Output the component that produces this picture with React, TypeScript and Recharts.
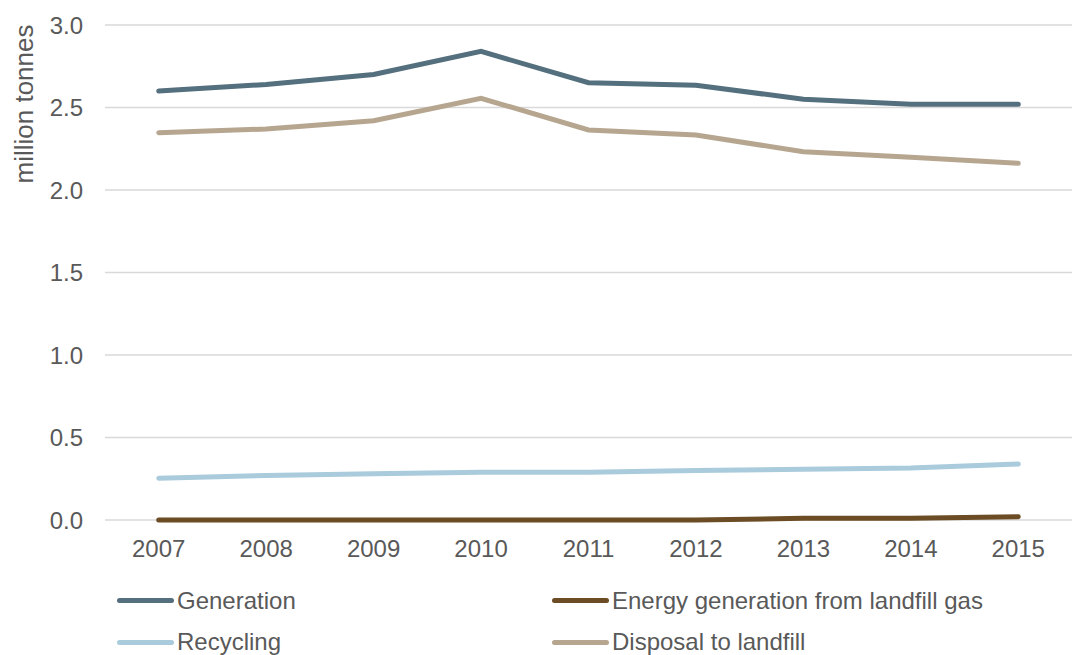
import { LineChart, Line, XAxis, YAxis, CartesianGrid, Legend } from 'recharts';

const years = ['2007', '2008', '2009', '2010', '2011', '2012', '2013', '2014', '2015'];
const generation = [2.6, 2.64, 2.7, 2.84, 2.65, 2.635, 2.55, 2.52, 2.52];
const energyFromGas = [0, 0, 0, 0, 0, 0, 0.01, 0.01, 0.02];
const recycling = [0.253, 0.27, 0.28, 0.289, 0.29, 0.3, 0.308, 0.315, 0.339];
const disposal = [2.347, 2.37, 2.42, 2.556, 2.364, 2.333, 2.232, 2.198, 2.162];
const yTicks = [0, 0.5, 1.0, 1.5, 2.0, 2.5, 3.0];
const legendOrder = ['Generation', 'Energy generation from landfill gas', 'Recycling', 'Disposal to landfill'];

const chartData = years.map((year, i) => ({
  year,
  generation: generation[i],
  energy: energyFromGas[i],
  recycling: recycling[i],
  disposal: disposal[i],
}));

const TEXT = '#595959';
const GRID = '#d9d9d9';

// legend laid out as two columns, like the original
const LegendBox = (props: any) => {
  const payload = props.payload || [];
  const items = legendOrder
    .map((name) => payload.find((p: any) => p.value === name))
    .filter(Boolean);
  return (
    <div
      style={{
        display: 'grid',
        gridTemplateColumns: '435px 435px',
        paddingLeft: 117,
      }}
    >
      {items.map((item: any) => (
        <div
          key={item.value}
          style={{ display: 'flex', alignItems: 'center', height: 41.5 }}
        >
          <span
            style={{
              display: 'inline-block',
              width: 57,
              height: 5,
              borderRadius: 3,
              background: item.color,
            }}
          />
          <span style={{ marginLeft: 3, fontSize: 24, color: TEXT }}>{item.value}</span>
        </div>
      ))}
    </div>
  );
};

const YLabel = () => (
  <text
    x={24}
    y={104}
    transform="rotate(-90 24 104)"
    textAnchor="middle"
    dominantBaseline="central"
    fill={TEXT}
    fontSize={26}
  >
    million tonnes
  </text>
);

const App = () => {
  return (
    <div
      style={{
        position: 'absolute',
        left: 0,
        top: 0,
        width: 1072,
        height: 655,
        background: '#fff',
        fontFamily: '"Liberation Sans", Arial, sans-serif',
      }}
    >
      <LineChart
        width={1072}
        height={655}
        data={chartData}
        margin={{ top: 25, right: 0, bottom: 105, left: 0 }}
      >
        <CartesianGrid vertical={false} stroke={GRID} strokeWidth={1.3} />
        <XAxis
          dataKey="year"
          scale="band"
          height={30}
          tickLine={false}
          tickSize={0}
          tickMargin={20}
          axisLine={false}
          tick={{ fill: TEXT, fontSize: 24 }}
        />
        <YAxis
          width={105}
          domain={[0, 3]}
          ticks={yTicks}
          interval={0}
          tickLine={false}
          axisLine={false}
          tickSize={0}
          tickMargin={22}
          tick={{ fill: TEXT, fontSize: 24 }}
          tickFormatter={(v: number) => v.toFixed(1)}
          label={{ content: () => <YLabel /> }}
        />
        <Legend
          verticalAlign="middle"
          align="center"
          content={<LegendBox />}
          wrapperStyle={{ top: 580, left: 0, width: 1072 }}
        />
        <Line
          type="linear"
          dataKey="generation"
          name="Generation"
          stroke="#546f7d"
          strokeWidth={5}
          strokeLinecap="round"
          dot={false}
          isAnimationActive={false}
        />
        <Line
          type="linear"
          dataKey="energy"
          name="Energy generation from landfill gas"
          stroke="#6b4c24"
          strokeWidth={5}
          strokeLinecap="round"
          dot={false}
          isAnimationActive={false}
        />
        <Line
          type="linear"
          dataKey="recycling"
          name="Recycling"
          stroke="#a9cbdc"
          strokeWidth={5}
          strokeLinecap="round"
          dot={false}
          isAnimationActive={false}
        />
        <Line
          type="linear"
          dataKey="disposal"
          name="Disposal to landfill"
          stroke="#b6a690"
          strokeWidth={5}
          strokeLinecap="round"
          dot={false}
          isAnimationActive={false}
        />
      </LineChart>
    </div>
  );
};

export default App;
